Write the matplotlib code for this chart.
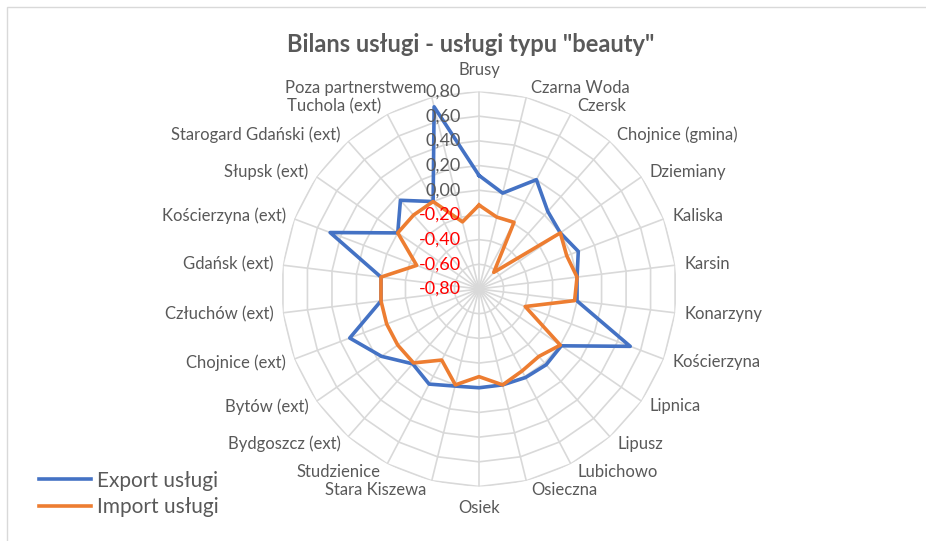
import numpy as np
import matplotlib
matplotlib.use("Agg")
import matplotlib.pyplot as plt
from matplotlib.patches import Rectangle

plt.rcParams['font.family'] = ['Lato', 'DejaVu Sans']

# categories, clockwise from the top
categories = ['Brusy', 'Czarna Woda', 'Czersk', 'Chojnice (gmina)', 'Dziemiany',
              'Kaliska', 'Karsin', 'Konarzyny', 'Kościerzyna', 'Lipnica', 'Lipusz',
              'Lubichowo', 'Osieczna', 'Osiek', 'Stara Kiszewa', 'Studzienice',
              'Bydgoszcz (ext)', 'Bytów (ext)', 'Chojnice (ext)', 'Człuchów (ext)',
              'Gdańsk (ext)', 'Kościerzyna (ext)', 'Słupsk (ext)',
              'Starogard Gdański (ext)', 'Tuchola (ext)', 'Poza partnerstwem']

export_uslugi = [0.12, 0.00, 0.20, 0.04, 0.00, 0.06, 0.00, 0.00, 0.51, 0.01,
                 0.02, 0.01, 0.00, 0.00, 0.01, 0.07, 0.01, 0.16, 0.32, 0.00,
                 0.00, 0.49, 0.00, 0.16, 0.00, 0.72]
import_uslugi = [-0.12, -0.20, -0.19, -0.62, 0.00, -0.04, 0.00, -0.02, -0.40, 0.00,
                 -0.07, -0.05, 0.00, -0.09, 0.00, -0.15, 0.00, 0.00, 0.00, 0.00,
                 0.00, -0.26, 0.00, 0.00, 0.00, -0.24]

r_ticks = [-0.8, -0.6, -0.4, -0.2, 0.0, 0.2, 0.4, 0.6, 0.8]
r_min, r_max = -0.8, 0.8

text_col = '#595959'
grid_col = '#D9D9D9'
blue = '#4472C4'
orange = '#ED7D31'

fig = plt.figure(figsize=(9.26, 5.41), dpi=100)

# chart frame (only the top and left edges are visible in the crop)
fig.patches.append(Rectangle((7 / 926, -0.1), 1.2, 1 - 7 / 541 + 0.1,
                             transform=fig.transFigure, fill=False,
                             edgecolor='#D9D9D9', linewidth=1.0))

ax = fig.add_axes([0.3040, 0.1007, 0.4266, 0.7302], projection='polar')
ax.set_theta_zero_location('N')
ax.set_theta_direction(-1)
ax.set_ylim(r_min, r_max)
ax.grid(False)
ax.spines['polar'].set_visible(False)
ax.set_xticks([])
ax.set_yticks([])
ax.patch.set_alpha(0)

n = len(categories)
theta = np.arange(n) * 2 * np.pi / n
theta_closed = np.append(theta, theta[0])

# polygon rings and spokes
for rv in r_ticks[1:]:
    ax.plot(theta_closed, [rv] * (n + 1), color=grid_col, lw=1.2, zorder=1)
for t in theta:
    ax.plot([t, t], [r_min, r_max], color=grid_col, lw=1.2, zorder=1)

# series
ax.plot(theta_closed, export_uslugi + export_uslugi[:1], color=blue, lw=2.6,
        solid_joinstyle='round', zorder=3, label='Export usługi')
ax.plot(theta_closed, import_uslugi + import_uslugi[:1], color=orange, lw=2.6,
        solid_joinstyle='round', zorder=3, label='Import usługi')

# category labels
px = 72 / 100
for t, name in zip(theta, categories):
    s, c = np.sin(t), np.cos(t)
    if abs(s) < 0.05:
        ha = 'center'
        dx, dy = 0, 21 * np.sign(c)
    else:
        ha = 'left' if s > 0 else 'right'
        dx = (4 + 5 * abs(s)) * np.sign(s)
        dy = 9 * c
    ax.annotate(name, xy=(t, r_max), xytext=(dx * px, dy * px),
                textcoords='offset points', ha=ha, va='center',
                fontsize=12, color=text_col, annotation_clip=False)

# value labels along the first axis
for rv in r_ticks:
    lab = f'{rv:.2f}'.replace('.', ',')
    if lab == '-0,00':
        lab = '0,00'
    ax.annotate(lab, xy=(0, rv), xytext=(-18 * px, 0), textcoords='offset points',
                ha='right', va='center', fontsize=13,
                color='#FF0000' if rv < 0 else text_col, zorder=4,
                annotation_clip=False)

fig.text(471 / 926, 1 - 45 / 541, 'Bilans usługi - usługi typu "beauty"',
         ha='center', va='center', fontsize=17, fontweight='bold', color=text_col)

fig.legend(loc='upper left', bbox_to_anchor=(20 / 926, 1 - 452 / 541),
           frameon=False, fontsize=15, handlelength=2.5, handletextpad=0.3,
           labelspacing=0.3, labelcolor=text_col)

fig.savefig('out.png', dpi=100)
